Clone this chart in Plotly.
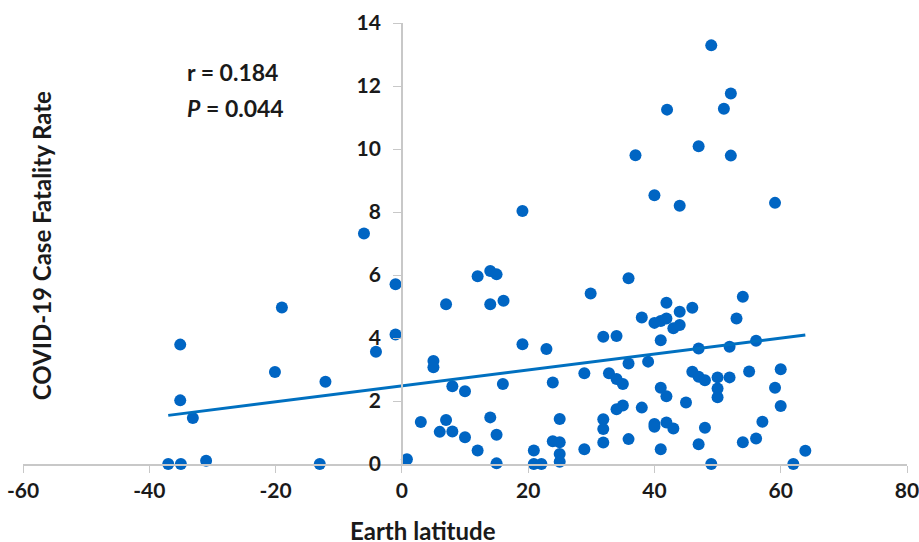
import plotly.graph_objects as go

latitude = [-37.0, -35.0, -35.1, -35.1, -33.1, -31.0, -20.1, -19.0, -13.0, -12.1,
            -6.0, -4.1, -1.0, -1.0, 0.8, 3.0, 5.0, 5.0, 6.0, 7.0,
            7.0, 8.0, 8.0, 10.0, 10.0, 12.0, 12.0, 14.0, 14.0, 14.0,
            15.0, 15.0, 15.0, 16.1, 16.0, 19.1, 19.1, 20.9, 20.9, 22.1,
            22.9, 23.9, 23.9, 25.0, 25.0, 25.0, 25.0, 28.9, 28.9, 29.9,
            31.9, 31.9, 31.9, 31.9, 32.8, 34.0, 34.0, 34.0, 35.0, 35.0,
            35.9, 35.9, 35.9, 37.0, 38.0, 38.0, 39.0, 40.0, 40.0, 40.0,
            40.0, 41.0, 41.0, 41.0, 41.0, 42.0, 41.9, 41.9, 41.9, 41.9,
            43.0, 43.0, 44.0, 44.0, 44.0, 45.0, 46.0, 46.0, 47.0, 47.0,
            47.0, 47.0, 48.0, 48.0, 49.0, 49.0, 50.0, 50.0, 50.0, 51.0,
            52.1, 52.1, 51.9, 51.9, 53.0, 54.0, 54.0, 55.0, 56.1, 56.1,
            57.1, 59.1, 59.1, 60.0, 60.0, 62.0, 63.9]
cfr = [0.0, 0.0, 3.79, 2.02, 1.46, 0.10, 2.92, 4.97, 0.0, 2.61,
       7.32, 3.56, 5.71, 4.11, 0.15, 1.33, 3.27, 3.07, 1.02, 5.07,
       1.40, 2.47, 1.03, 2.31, 0.85, 5.96, 0.43, 6.13, 5.07, 1.48,
       6.02, 0.93, 0.02, 5.18, 2.54, 8.03, 3.80, 0.43, 0.0, 0.0,
       3.65, 2.59, 0.72, 1.43, 0.69, 0.32, 0.07, 2.88, 0.47, 5.41,
       4.04, 1.42, 1.11, 0.68, 2.88, 4.06, 2.70, 1.74, 2.54, 1.86,
       5.90, 3.19, 0.79, 9.80, 4.65, 1.79, 3.25, 8.53, 4.48, 1.27,
       1.18, 4.54, 3.93, 2.42, 0.47, 11.25, 5.12, 4.62, 2.15, 1.32,
       4.31, 1.13, 8.20, 4.83, 4.41, 1.95, 4.96, 2.93, 10.09, 3.67,
       2.77, 0.63, 2.66, 1.15, 13.29, 0.0, 2.75, 2.40, 2.12, 11.28,
       11.76, 9.79, 3.72, 2.75, 4.62, 5.31, 0.69, 2.94, 3.91, 0.81,
       1.34, 8.29, 2.42, 3.01, 1.84, 0.0, 0.42]

trend_slope = 0.0253
trend_intercept = 2.48
x_ticks = [-60, -40, -20, 0, 20, 40, 60, 80]
y_ticks = [0, 2, 4, 6, 8, 10, 12, 14]
r_text = "r = 0.184"
p_text = "<i>P</i> = 0.044"

x_lo, x_hi = min(latitude), max(latitude)
trend_x = [x_lo, x_hi]
trend_y = [trend_intercept + trend_slope * v for v in trend_x]

FONT = "Lato"

fig = go.Figure()
fig.add_trace(go.Scatter(
    x=latitude, y=cfr, mode="markers",
    marker=dict(color="#0065c3", size=12, line=dict(width=0)),
    cliponaxis=False, showlegend=False))
fig.add_trace(go.Scatter(
    x=trend_x, y=trend_y, mode="lines",
    line=dict(color="#0070c0", width=3),
    cliponaxis=False, showlegend=False))

axis_font = dict(family=FONT, size=21, color="#1a1a1a", weight="bold")

fig.update_layout(
    width=919, height=542,
    margin=dict(l=23, r=12, t=23, b=78),
    paper_bgcolor="white", plot_bgcolor="white",
    xaxis=dict(range=[-60, 80], tickvals=x_ticks, ticktext=[str(v) for v in x_ticks],
               showgrid=False, zeroline=False, showline=True, linecolor="#c8c8c8",
               linewidth=1.5, ticks="outside", ticklen=7, tickcolor="#c8c8c8",
               tickfont=axis_font, automargin=False, ticklabeloverflow="allow"),
    yaxis=dict(range=[0, 14], tickvals=y_ticks, ticktext=[str(v) for v in y_ticks],
               showgrid=False, zeroline=False, showline=True, linecolor="#c8c8c8",
               linewidth=1.5, ticks="outside", ticklen=8, tickcolor="#c8c8c8",
               ticklabelstandoff=8,
               anchor="free", position=60/140, tickfont=axis_font, automargin=False,
               ticklabeloverflow="allow"),
)

title_font = dict(family=FONT, size=24, color="#1a1a1a", weight="bold")
fig.add_annotation(text="Earth latitude", xref="paper", yref="paper",
                   x=0.452, y=-0.150, xanchor="center", yanchor="middle",
                   showarrow=False, font=title_font)
fig.add_annotation(text="COVID-19 Case Fatality Rate", xref="paper", yref="paper",
                   x=0.0204, y=0.494, xanchor="center", yanchor="middle", textangle=-90,
                   showarrow=False, font=title_font)
stat_font = dict(family=FONT, size=23, color="#1a1a1a", weight="bold")
fig.add_annotation(text=r_text, xref="paper", yref="paper",
                   x=0.183, y=0.889, xanchor="left", yanchor="middle",
                   showarrow=False, font=stat_font)
fig.add_annotation(text=p_text, xref="paper", yref="paper",
                   x=0.183, y=0.807, xanchor="left", yanchor="middle",
                   showarrow=False, font=stat_font)

fig.write_html("out.html", config={"displayModeBar": False},
               post_script="document.body.style.margin='0';document.body.style.overflow='hidden';")
